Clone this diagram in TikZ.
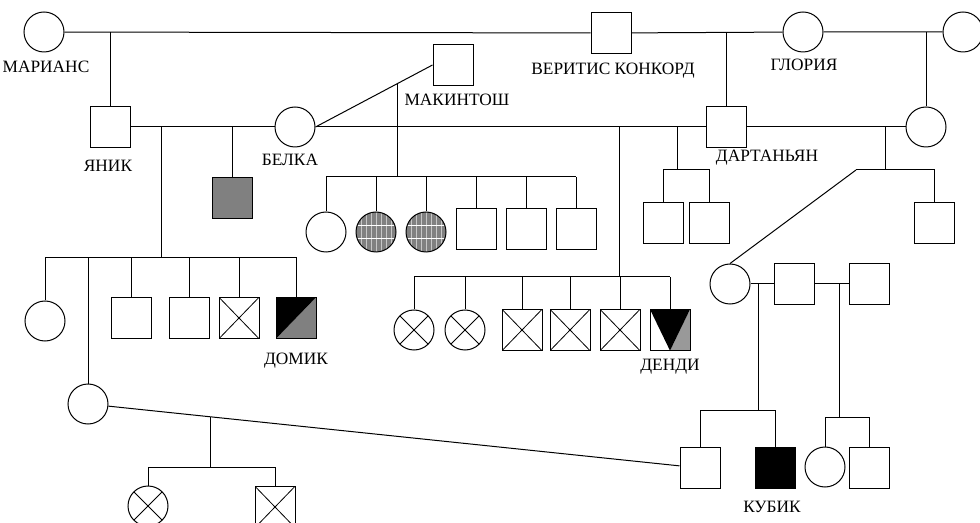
\documentclass[tikz,border=0pt]{standalone}
\usepackage{fontspec}
\setmainfont{Liberation Serif}
\usetikzlibrary{calc}
\begin{document}
\begin{tikzpicture}[x=0.75pt, y=-0.75pt, line width=0.75pt,
                    fem/.style = {draw, circle, minimum size=30pt, inner sep=0pt},
                    man/.style = {draw, rectangle, minimum width=30pt, minimum height=31pt, inner sep=0pt},
                    dead/.style = {path picture={\draw[line width=0.6pt] (path picture bounding box.north west) -- (path picture bounding box.south east)
                        (path picture bounding box.north east) -- (path picture bounding box.south west);}},
                    hatch/.style = {path picture={\fill[gray] (path picture bounding box.south west) rectangle (path picture bounding box.north east);
                        \foreach \k in {-3,...,3} \draw[white!55!gray, line width=0.3pt] ([xshift=\k*3.8pt]path picture bounding box.north) -- ([xshift=\k*3.8pt]path picture bounding box.south);
                        \draw[white, line width=0.7pt] ([yshift=-10pt]path picture bounding box.north west) -- ([yshift=-10pt]path picture bounding box.north east)
                        ([yshift=10pt]path picture bounding box.south west) -- ([yshift=10pt]path picture bounding box.south east);}},
                    half/.style = {path picture={\fill[gray] (path picture bounding box.north east) -- (path picture bounding box.south east) -- (path picture bounding box.south west) -- cycle;
                        \fill[black] (path picture bounding box.north west) -- (path picture bounding box.north east) -- (path picture bounding box.south west) -- cycle;}},
                    wedge/.style = {path picture={\fill[gray!80] (path picture bounding box.north east) -- (path picture bounding box.south east) -- (path picture bounding box.south) -- cycle;
                        \fill[black] (path picture bounding box.north west) -- (path picture bounding box.north east) -- (path picture bounding box.south) -- cycle;}},
                    lbl/.style = {font=\fontsize{13}{15}\selectfont, inner sep=0pt}]
                    \useasboundingbox (0,0) rectangle (980,523);

                    \node[fem] (1) at (44,32) {};
                    \node[man] (2) at (611,33) {};
                    \node[fem] (3) at (803,32) {};
                    \node[fem] (4) at (963,32) {};
                    \node[man] (5) at (453,65) {};

                    \node[man] (6) at (110,127) {};
                    \node[fem] (7) at (295,127) {};
                    \node[man] (8) at (726,127) {};
                    \node[fem] (9) at (926,127) {};

                    \node[man, fill=gray] (10) at (232,198) {};
                    \node[fem] (11) at (326,232) {};
                    \node[fem, hatch] (12) at (376,232) {};
                    \node[fem, hatch] (13) at (426,232) {};
                    \node[man] (14) at (476,229) {};
                    \node[man] (15) at (526,229) {};
                    \node[man] (16) at (576,229) {};
                    \node[man] (17) at (663,223) {};
                    \node[man] (18) at (709,223) {};
                    \node[man] (19) at (934,223) {};

                    \node[fem] (20) at (45,321) {};
                    \node[fem] (21) at (88,404) {};
                    \node[man] (22) at (131,318) {};
                    \node[man] (23) at (189,318) {};
                    \node[man, dead] (24) at (239,318) {};
                    \node[man, half] (25) at (296,318) {};

                    \node[fem, dead] (26) at (414,330) {};
                    \node[fem, dead] (27) at (465,330) {};
                    \node[man, dead] (28) at (522,330) {};
                    \node[man, dead] (29) at (570,330) {};
                    \node[man, dead] (30) at (620,330) {};
                    \node[man, wedge] (31) at (670,330) {};

                    \node[fem] (32) at (730,284) {};
                    \node[man] (33) at (794,284) {};
                    \node[man] (34) at (869,284) {};
                    \node[man] (35) at (700,468) {};
                    \node[man, fill=black] (36) at (775,468) {};
                    \node[fem] (37) at (825,467) {};
                    \node[man] (38) at (869,468) {};
                    \node[fem, dead] (39) at (148,506) {};
                    \node[man, dead] (40) at (275,507) {};

                    \node[lbl] (l1) at (46,67) {МАРИАНС};
                    \node[lbl] (l2) at (613,71) {ВЕРИТИС КОНКОРД};
                    \node[lbl] (l3) at (804,65) {ГЛОРИЯ};
                    \node[lbl] (l4) at (457,100) {МАКИНТОШ};
                    \node[lbl] (l5) at (108,166) {ЯНИК};
                    \node[lbl] (l6) at (290,160) {БЕЛКА};
                    \node[lbl] (l7) at (767,158) {ДАРТАНЬЯН};
                    \node[lbl] (l8) at (296,361) {ДОМИК};
                    \node[lbl] (l9) at (670,367) {ДЕНДИ};
                    \node[lbl] (l10) at (772,507) {КУБИК};

                    \coordinate (a) at (161,258);
                    \coordinate (b) at ($(7.east)!0.7!(5.west)$);
                    \coordinate (b2) at (398,177);
                    \coordinate (c) at (619,277);
                    \coordinate (d) at (677,170);
                    \coordinate (e) at (885,170);
                    \coordinate (e1) at (856,170);
                    \coordinate (f) at (758,410);
                    \coordinate (g) at (839,417);
                    \coordinate (h) at ($(21)!0.2!(35)$);
                    \coordinate (h2) at (211,467);

                    \draw (1) -- (2) -- (3) -- (4);
                    \draw (6) -- (6 |- 1);
                    \draw (8) -- (8 |- 3);
                    \draw (9) -- (9 |- 3);
                    \draw (6) -- (7) -- (8) -- (9);
                    \draw (7.east) -- (5.west);

                    \draw (10) -- (10 |- 7);
                    \draw (a |- 7) -- (a);
                    \draw (20) -- (20 |- a) -- (25 |- a) -- (25);
                    \foreach \n in {21,22,23,24} \draw (\n) -- (\n |- a);

                    \draw (b) -- (b |- b2);
                    \draw (11 |- b2) -- (16 |- b2);
                    \foreach \n in {11,...,16} \draw (\n) -- (\n |- b2);

                    \draw (c |- 7) -- (c);
                    \draw (26 |- c) -- (31 |- c);
                    \foreach \n in {26,...,31} \draw (\n) -- (\n |- c);

                    \draw (d |- 8) -- (d);
                    \draw (17) -- (17 |- d) -- (18 |- d) -- (18);

                    \draw (e |- 9) -- (e);
                    \draw (e1) -- (19 |- e) -- (19);
                    \draw (e1) -- (32.north);

                    \draw (32) -- (33) -- (34);
                    \draw (f |- 32) -- (f);
                    \draw (35) -- (35 |- f) -- (36 |- f) -- (36);
                    \draw (g |- 33) -- (g);
                    \draw (37) -- (37 |- g) -- (38 |- g) -- (38);

                    \draw (21) -- (35);
                    \draw (h) -- (h |- h2);
                    \draw (39) -- (39 |- h2) -- (40 |- h2) -- (40);
                \end{tikzpicture}
\end{document}
